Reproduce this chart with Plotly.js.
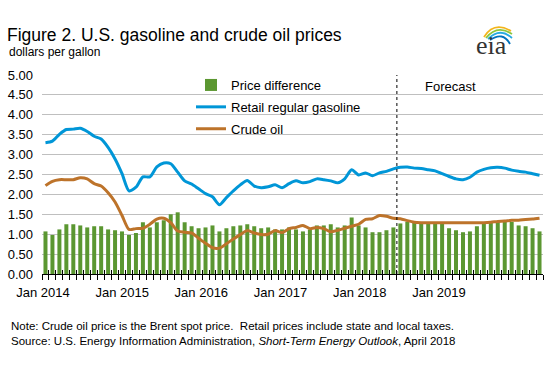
<!DOCTYPE html>
<html>
<head>
<meta charset="utf-8">
<script src="https://cdn.plot.ly/plotly-3.0.1.min.js"></script>
<style>html,body{margin:0;padding:0;background:#fff;}#chart{width:549px;height:371px;}</style>
</head>
<body>
<div id="chart"></div>
<script>
// ---- data (monthly, Jan 2014 - Dec 2019) ----
const years = [2014, 2015, 2016, 2017, 2018, 2019];
const monthNames = ['Jan','Feb','Mar','Apr','May','Jun','Jul','Aug','Sep','Oct','Nov','Dec'];
const months = [];
years.forEach(y => monthNames.forEach(m => months.push(m + ' ' + y)));
const yearTickLabels = ['Jan 2014','Jan 2015','Jan 2016','Jan 2017','Jan 2018','Jan 2019'];
const forecastStart = 'Apr 2018';

const priceDifference = [
  1.07, 0.98, 1.12, 1.25, 1.25, 1.22, 1.17, 1.20, 1.20, 1.12, 1.10, 1.07,
  0.98, 1.03, 1.30, 1.17, 1.30, 1.35, 1.50, 1.55, 1.30, 1.20, 1.15, 1.17,
  1.22, 1.07, 1.15, 1.20, 1.22, 1.25, 1.20, 1.15, 1.17, 1.12, 1.12, 1.17,
  1.12, 1.07, 1.12, 1.22, 1.22, 1.25, 1.17, 1.22, 1.42, 1.22, 1.17, 1.05,
  1.05, 1.10, 1.17, 1.27, 1.31, 1.30, 1.29, 1.29, 1.29, 1.29, 1.15, 1.10,
  1.05, 1.07, 1.20, 1.27, 1.30, 1.31, 1.32, 1.31, 1.22, 1.20, 1.15, 1.07
];
const retailGasoline = [
  3.30, 3.34, 3.51, 3.63, 3.64, 3.66, 3.58, 3.46, 3.39, 3.18, 2.89, 2.52,
  2.09, 2.18, 2.44, 2.44, 2.69, 2.79, 2.77, 2.56, 2.34, 2.26, 2.14, 2.02,
  1.94, 1.74, 1.92, 2.09, 2.24, 2.35, 2.21, 2.17, 2.19, 2.24, 2.17, 2.27,
  2.34, 2.29, 2.32, 2.39, 2.37, 2.34, 2.29, 2.39, 2.62, 2.49, 2.54, 2.47,
  2.54, 2.58, 2.64, 2.68, 2.69, 2.66, 2.65, 2.62, 2.59, 2.52, 2.45, 2.39,
  2.37, 2.43, 2.56, 2.63, 2.67, 2.68, 2.66, 2.61, 2.58, 2.56, 2.52, 2.48
];
const crudeOil = [
  2.22, 2.33, 2.37, 2.37, 2.37, 2.42, 2.39, 2.27, 2.21, 2.04, 1.81, 1.47,
  1.12, 1.14, 1.15, 1.25, 1.38, 1.40, 1.29, 1.08, 1.05, 1.03, 0.90, 0.77,
  0.66, 0.65, 0.76, 0.88, 0.99, 1.09, 1.03, 0.99, 1.00, 1.09, 1.04, 1.14,
  1.17, 1.22, 1.14, 1.17, 1.14, 1.06, 1.10, 1.15, 1.20, 1.25, 1.37, 1.39,
  1.47, 1.45, 1.40, 1.39, 1.34, 1.30, 1.29, 1.29, 1.29, 1.29, 1.29, 1.29,
  1.29, 1.29, 1.29, 1.29, 1.30, 1.32, 1.33, 1.35, 1.35, 1.37, 1.38, 1.40
];

// ---- layout geometry ----
const W = 549, H = 371;
const M = {l: 42, r: 6, t: 75, b: 97};
const plotW = W - M.l - M.r, plotH = H - M.t - M.b;
const px = x => (x - M.l) / plotW;          // pixel -> paper x
const py = y => (H - M.b - y) / plotH;      // pixel -> paper y

const xIdx = months.map((m, i) => i);
const nMonths = months.length;
// year labels sit slightly left of each January, as in the source figure
const labelStart = -0.36, labelStep = 11.38;
const yearTickPos = yearTickLabels.map((t, k) => labelStart + k * labelStep);
const forecastX = months.indexOf(forecastStart) - 0.5;

const FONT = 'Liberation Sans, Arial, sans-serif';
const GREEN = '#5b9731', BLUE = '#0096d7', BROWN = '#bd732a';

const traces = [
  {type: 'bar', name: 'Price difference', legendgroup: 'a', x: xIdx, y: priceDifference, text: months,
   textposition: 'none',
   marker: {color: GREEN, line: {width: 0}}, hovertemplate: '%{text}: %{y:.2f}<extra></extra>'},
  {type: 'scatter', mode: 'lines', name: 'Retail regular gasoline', legendgroup: 'b', x: xIdx, y: retailGasoline, text: months,
   line: {color: BLUE, width: 3, shape: 'spline', smoothing: 0.7}, hovertemplate: '%{text}: %{y:.2f}<extra></extra>'},
  {type: 'scatter', mode: 'lines', name: 'Crude oil', legendgroup: 'c', x: xIdx, y: crudeOil, text: months, xaxis: 'x2',
   line: {color: BROWN, width: 3, shape: 'spline', smoothing: 0.7}, hovertemplate: '%{text}: %{y:.2f}<extra></extra>'}
];

const arc = (pts) => {
  const [a, b, c] = pts;
  return `M${px(a[0])},${py(a[1])} Q${px(b[0])},${py(b[1])} ${px(c[0])},${py(c[1])}`;
};

const layout = {
  width: W, height: H,
  margin: M,
  paper_bgcolor: '#ffffff', plot_bgcolor: '#ffffff',
  font: {family: FONT, size: 13, color: '#000'},
  bargap: 0.425,
  showlegend: true,
  title: {text: 'Figure 2. U.S. gasoline and crude oil prices', x: 7 / W, xanchor: 'left',
          y: 1 - 35 / H, yanchor: 'middle', font: {family: FONT, size: 17.5, color: '#000'}},
  legend: {x: px(191), y: py(70), xanchor: 'left', yanchor: 'top', bgcolor: 'rgba(0,0,0,0)',
           traceorder: 'grouped', font: {family: FONT, size: 13, color: '#000'}, itemwidth: 30, tracegroupgap: 2},
  xaxis: {range: [-0.5, nMonths - 0.5], tickmode: 'array', tickvals: yearTickPos, ticktext: yearTickLabels,
          ticks: '', showline: true, linecolor: '#000', linewidth: 1, showgrid: false, zeroline: false,
          ticklabelstandoff: 6, tickfont: {family: FONT, size: 13, color: '#000'},
          minor: {tickmode: 'linear', tick0: -0.5, dtick: 1, ticks: 'outside', ticklen: 5,
                  tickcolor: '#000', tickwidth: 1, showgrid: false}},
  xaxis2: {overlaying: 'x', anchor: 'y', side: 'bottom', range: [-0.5, nMonths - 0.5],
           tickmode: 'linear', tick0: -0.5, dtick: 1, ticks: 'inside', ticklen: 4, tickcolor: '#000',
           tickwidth: 1, showticklabels: false, showgrid: false, zeroline: false, showline: false},
  yaxis: {range: [0, 5], tickmode: 'linear', tick0: 0, dtick: 0.5, tickformat: '.2f',
          ticks: '', showline: false, showgrid: true, gridcolor: '#bfbfbf', gridwidth: 1, zeroline: false,
          ticklabelstandoff: 8, tickfont: {family: FONT, size: 13, color: '#000'}},
  shapes: [
    {type: 'line', xref: 'x', yref: 'paper', x0: forecastX, x1: forecastX, y0: 0, y1: 1,
     line: {color: '#000', width: 1, dash: '3px,3px'}},
    {type: 'path', xref: 'paper', yref: 'paper', path: arc([[484, 37], [494, 21], [511, 31]]), line: {color: '#f3b51b', width: 1.8}},
    {type: 'path', xref: 'paper', yref: 'paper', path: arc([[486, 38], [497, 24], [512, 34]]), line: {color: '#8cc63f', width: 1.8}},
    {type: 'path', xref: 'paper', yref: 'paper', path: arc([[488, 39], [500, 27], [512, 38]]), line: {color: '#27aae1', width: 1.8}},
    {type: 'path', xref: 'paper', yref: 'paper', path: arc([[490, 40], [503, 31], [510, 44]]), line: {color: '#0072bc', width: 1.8}}
  ],
  annotations: [
    {text: 'dollars per gallon', xref: 'paper', yref: 'paper', x: px(7), y: py(52), xanchor: 'left', yanchor: 'middle',
     showarrow: false, font: {family: FONT, size: 12, color: '#000'}},
    {text: 'Forecast', xref: 'paper', yref: 'paper', x: px(450), y: py(86), xanchor: 'center', yanchor: 'middle',
     showarrow: false, font: {family: FONT, size: 13, color: '#000'}},
    {text: 'eia', xref: 'paper', yref: 'paper', x: px(491), y: py(45), xanchor: 'center', yanchor: 'middle',
     showarrow: false, font: {family: 'Liberation Serif, serif', size: 26, color: '#333'}},
    {text: 'Note: Crude oil price is the Brent spot price.  Retail prices include state and local taxes.',
     xref: 'paper', yref: 'paper', x: px(9), y: py(325.5), xanchor: 'left', yanchor: 'middle',
     showarrow: false, font: {family: FONT, size: 11.5, color: '#000'}},
    {text: 'Source: U.S. Energy Information Administration, <i>Short-Term Energy Outlook</i>, April 2018',
     xref: 'paper', yref: 'paper', x: px(9), y: py(341), xanchor: 'left', yanchor: 'middle',
     showarrow: false, font: {family: FONT, size: 11.5, color: '#000'}}
  ]
};

Plotly.newPlot('chart', traces, layout, {displayModeBar: false, staticPlot: true});
</script>
</body>
</html>
